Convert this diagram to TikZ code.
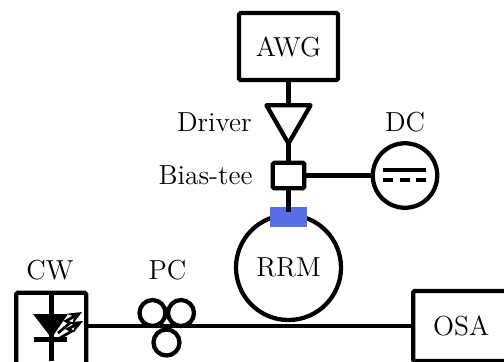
\documentclass[tikz,border=0pt]{standalone}
\usepackage{xcolor}
\usepackage{tikz}
\usetikzlibrary{arrows.meta,shapes.geometric}
\definecolor{rrmblue}{HTML}{5570E6}

\begin{document}
\begin{tikzpicture}[
    x=0.4pt, y=-0.4pt,
    every node/.style={font=\fontsize{11}{13}\selectfont},
    wire/.style={line width=1.7pt},
    box/.style={draw, line width=1.7pt, rounded corners=0.6pt, inner sep=0pt},
    ring/.style={circle, draw, line width=1.7pt, inner sep=0pt},
    lbl/.style={inner sep=0pt},
    bolt/.style={line width=1.1pt, -{Stealth[length=5.5pt,width=4.6pt]}}
]
    \useasboundingbox (0,0) rectangle (504,361);

    \node[box, minimum width=39.6pt, minimum height=26.8pt] (AWG) at (288.5,46.5) {AWG};
    \node[regular polygon, regular polygon sides=3, shape border rotate=180, draw,
          line width=1.7pt, line join=round, outer sep=0pt, inner sep=0pt, minimum size=20.4pt] (driver) at (288.5,118) {};
    \node[box, minimum width=12.6pt, minimum height=10.2pt] (biastee) at (288.5,175.5) {};
    \node[ring, minimum size=25.8pt] (DC) at (405,175.5) {};
    \node[ring, minimum size=42pt] (RRM) at (288.5,267.5) {RRM};
    \node[fill=rrmblue, minimum width=14.8pt, minimum height=8pt, inner sep=0pt] (coupler) at (288.5,217) {};
    \coordinate (busin) at (288.5,212);

    \node[box, minimum width=28pt, minimum height=40pt, anchor=north west] (CW) at (14,290.5) {};
    \node[box, minimum width=38.4pt, minimum height=28pt, anchor=west] (OSA) at (411,326) {OSA};

    \draw[wire] (AWG) -- (driver);
    \draw[wire] (driver) -- (biastee);
    \draw[wire] (biastee) -- (DC);
    \draw[wire] (biastee) -- (busin);

    % bias source symbol
    \coordinate (dcl) at (383,170);
    \coordinate (dcr) at (426,170);
    \coordinate (dcdl) at (383,180);
    \coordinate (dcdr) at (426,180);
    \draw[wire] (dcl) -- (dcr);
    \draw[wire, dash pattern=on 4pt off 2.6pt] (dcdl) -- (dcdr);

    % laser diode
    \coordinate (cwtop) at (51.5,292);
    \coordinate (cwbot) at (51.5,361);
    \coordinate (dioa) at (33,314);
    \coordinate (diob) at (68,314);
    \coordinate (dioc) at (51.5,338);
    \coordinate (barl) at (34,339.5);
    \coordinate (barr) at (67,339.5);
    \draw[wire] (cwtop) -- (cwbot);
    \fill (dioa) -- (diob) -- (dioc) -- cycle;
    \draw[wire] (barl) -- (barr);
    \draw[bolt] (58,333) -- (70,323) -- (66,321) -- (82,312);
    \draw[bolt] (60,338) -- (72,331) -- (68,329) -- (83,321);

    % polarisation controller
    \node[ring, minimum size=10.4pt] (pca) at (152.5,313) {};
    \node[ring, minimum size=10.4pt] (pcb) at (181,313) {};
    \node[ring, minimum size=10.4pt] (pcc) at (166.5,342.5) {};

    \coordinate (cwout) at (CW.east |- OSA.west);
    \draw[wire] (cwout) -- (OSA.west);

    \node[lbl, anchor=east] (driverlbl) at (252,122.5) {Driver};
    \node[lbl, anchor=east] (biaslbl) at (253,175.5) {Bias-tee};
    \node[lbl] (dclbl) at (405,122.5) {DC};
    \node[lbl] (cwlbl) at (50,270) {CW};
    \node[lbl] (pclbl) at (167.5,270) {PC};
\end{tikzpicture}
\end{document}
